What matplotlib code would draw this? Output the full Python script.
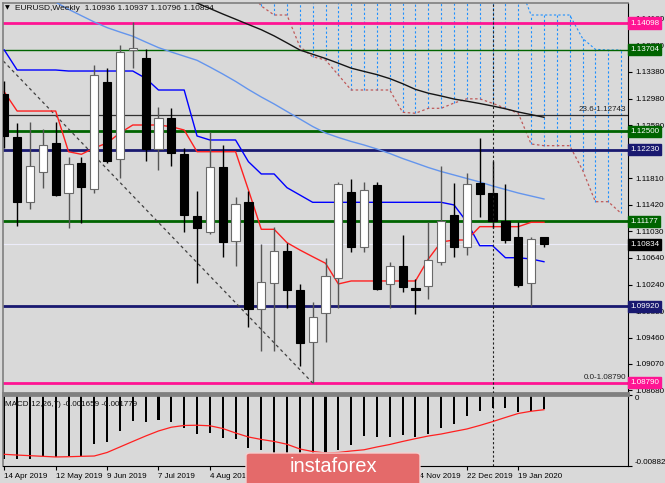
import matplotlib.pyplot as plt
import matplotlib.patches as patches
import numpy as np

plt.rcParams['font.family'] = ['Liberation Sans', 'DejaVu Sans']

# EURUSD weekly candles, week of 14 Apr 2019 .. week of 2 Feb 2020
opens = [1.13047, 1.12422, 1.11463, 1.11906, 1.12333, 1.11587, 1.12038, 1.11646, 1.13224, 1.12093,
         1.13696, 1.13578, 1.12236, 1.12702, 1.12171, 1.11257, 1.11021, 1.11979, 1.10888, 1.11454,
         1.09877, 1.10269, 1.10736, 1.10161, 1.09399, 1.09818, 1.10343, 1.11602, 1.10800, 1.11705,
         1.10245, 1.10520, 1.10186, 1.10220, 1.10570, 1.11267, 1.10800, 1.11743, 1.11596, 1.11179,
         1.10938, 1.10269, 1.10936]
highs = [1.13243, 1.12619, 1.12643, 1.12535, 1.12634, 1.12127, 1.12127, 1.13479, 1.13430, 1.13774,
         1.14117, 1.13710, 1.12864, 1.12840, 1.12251, 1.11621, 1.12495, 1.12299, 1.11528, 1.11625,
         1.10839, 1.11095, 1.10859, 1.10245, 1.09984, 1.10629, 1.11750, 1.11793, 1.11758, 1.11754,
         1.10569, 1.10972, 1.10319, 1.11168, 1.11990, 1.11743, 1.11882, 1.12398, 1.12062, 1.11720,
         1.11168, 1.10947, 1.10937]
lows = [1.12251, 1.11109, 1.11351, 1.11661, 1.11547, 1.11071, 1.11154, 1.11596, 1.12029, 1.11808,
        1.13430, 1.12068, 1.11931, 1.11990, 1.11012, 1.10269, 1.10990, 1.10652, 1.10515, 1.09620,
        1.09262, 1.09266, 1.09891, 1.09041, 1.08785, 1.09399, 1.09900, 1.10726, 1.10726, 1.10161,
        1.09891, 1.10127, 1.09803, 1.10024, 1.10530, 1.10652, 1.10677, 1.11233, 1.11072, 1.10859,
        1.10201, 1.09930, 1.10796]
closes = [1.12436, 1.11463, 1.11990, 1.12295, 1.11562, 1.12015, 1.11675, 1.13327, 1.12068, 1.13675,
          1.13734, 1.12240, 1.12693, 1.12186, 1.11267, 1.11071, 1.11979, 1.10873, 1.11425, 1.09877,
          1.10284, 1.10736, 1.10161, 1.09384, 1.09767, 1.10368, 1.11720, 1.10800, 1.11636, 1.10180,
          1.10520, 1.10210, 1.10161, 1.10599, 1.11183, 1.10791, 1.11724, 1.11581, 1.11183, 1.10898,
          1.10235, 1.10909, 1.10834]

# date ticks (labels under the watermark are not visible in the source)
date_pos = [0, 4, 8, 12, 16, 20, 24, 28, 32, 36, 40]
date_labels = ['14 Apr 2019', '12 May 2019', '9 Jun 2019', '7 Jul 2019', '4 Aug 2019', '',
               '', '', '24 Nov 2019', '22 Dec 2019', '19 Jan 2020']

# ichimoku tenkan / kijun
tenkan = [1.13081, 1.12800, 1.12800, 1.12800, 1.12800, 1.12200, 1.12162, 1.12255, 1.12329, 1.12476,
          1.12594, 1.12594, 1.12594, 1.12569, 1.12520, 1.12200, 1.12200, 1.12200, 1.12200, 1.11636,
          1.11056, 1.11056, 1.10859, 1.10751, 1.10652, 1.10555, 1.10250, 1.10294, 1.10294, 1.10294,
          1.10294, 1.10294, 1.10294, 1.10618, 1.10869, 1.10898, 1.10898, 1.11095, 1.11095, 1.11095,
          1.11095, 1.11159, 1.11159]
kijun = [1.13700, 1.13405, 1.13405, 1.13405, 1.13405, 1.13390, 1.13390, 1.13390, 1.13390, 1.13390,
         1.13390, 1.13283, 1.13110, 1.13110, 1.13110, 1.12432, 1.12373, 1.12373, 1.12373, 1.12053,
         1.11872, 1.11872, 1.11670, 1.11562, 1.11454, 1.11454, 1.11454, 1.11454, 1.11454, 1.11454,
         1.11454, 1.11454, 1.11454, 1.11454, 1.11454, 1.11415, 1.11164, 1.10814, 1.10814, 1.10637,
         1.10637, 1.10618, 1.10578]

# moving averages (start week given)
ma_fast_start = 3
ma_fast = [1.14489, 1.14405, 1.14300, 1.14206, 1.14113, 1.14030, 1.13965, 1.13903, 1.13818, 1.13735,
           1.13670, 1.13609, 1.13548, 1.13449, 1.13346, 1.13237, 1.13118, 1.13007, 1.12904, 1.12793,
           1.12683, 1.12572, 1.12476, 1.12410, 1.12351, 1.12299, 1.12240, 1.12174, 1.12100, 1.12034,
           1.11967, 1.11908, 1.11857, 1.11805, 1.11754, 1.11695, 1.11643, 1.11591, 1.11547, 1.11503]
ma_slow_start = 13
ma_slow = [1.14555, 1.14481, 1.14393, 1.14312, 1.14231, 1.14154, 1.14076, 1.13999, 1.13908, 1.13805,
           1.13700, 1.13637, 1.13575, 1.13505, 1.13432, 1.13384, 1.13337, 1.13278, 1.13203, 1.13119,
           1.13063, 1.13022, 1.12977, 1.12945, 1.12911, 1.12874, 1.12833, 1.12786, 1.12747, 1.12708]

# cloud (shifted forward)
cloud_start = 19
span_a = [1.14600, 1.14349, 1.14216, 1.14216, 1.13749, 1.13601, 1.13553, 1.13331, 1.13110, 1.13110,
          1.13110, 1.13110, 1.12781, 1.12767, 1.12840, 1.12840, 1.12918, 1.12980, 1.12980, 1.12914,
          1.12840, 1.12767, 1.12314, 1.12289, 1.12289, 1.12289, 1.11931, 1.11463, 1.11463, 1.11292]
span_b = [1.14700, 1.14700, 1.14700, 1.14700, 1.14700, 1.14700, 1.14700, 1.14700, 1.14700, 1.14700,
          1.14700, 1.14700, 1.14700, 1.14700, 1.14700, 1.14700, 1.14700, 1.14700, 1.14700, 1.14700,
          1.14700, 1.14700, 1.14216, 1.14216, 1.14216, 1.14216, 1.13872, 1.13710, 1.13700, 1.13700]

macd_main = [-0.00791, -0.00791, -0.00791, -0.00753, -0.00766, -0.00753, -0.00753, -0.00607, -0.00585, -0.00448,
             -0.00319, -0.00335, -0.00306, -0.00328, -0.00403, -0.00485, -0.00465, -0.00528, -0.00544, -0.00653,
             -0.00682, -0.00732, -0.00769, -0.00782, -0.00769, -0.00732, -0.00688, -0.00619, -0.00507, -0.00523,
             -0.00515, -0.00490, -0.00515, -0.00482, -0.00410, -0.00360, -0.00256, -0.00190, -0.00160, -0.00153,
             -0.00203, -0.00190, -0.001659]
macd_signal = [-0.00736, -0.00745, -0.00753, -0.00761, -0.00769, -0.00766, -0.00761, -0.00757, -0.00713, -0.00644,
               -0.00575, -0.00507, -0.00444, -0.00397, -0.00375, -0.00372, -0.00379, -0.00413, -0.00469, -0.00519,
               -0.00550, -0.00575, -0.00610, -0.00669, -0.00701, -0.00719, -0.00713, -0.00694, -0.00679, -0.00644,
               -0.00613, -0.00575, -0.00540, -0.00507, -0.00482, -0.00450, -0.00419, -0.00375, -0.00327, -0.00275,
               -0.00225, -0.00197, -0.001779]

levels = [1.14098, 1.13704, 1.12500, 1.12230, 1.11177, 1.09920, 1.08790]
level_colors = ['#ff1493', '#006400', '#006400', '#191970', '#006400', '#191970', '#ff1493']
level_widths = [2, 1, 2, 2, 2, 2, 2]
last_price = 1.10834

fib_levels = [1.12743, 1.08790]
fib_labels = ['23.6-1.12743', '0.0-1.08790']
trend_x = [-61, 24]
trend_y = [1.2555, 1.0879]
marker_week = 38

price_ticks = [1.14160, 1.13770, 1.13380, 1.12980, 1.12590, 1.12200, 1.11810, 1.11420, 1.11030,
               1.10640, 1.10240, 1.09850, 1.09460, 1.09070, 1.08680]
# 1.12200 sits fully behind the 1.12230 box in the source
price_tick_labels = ['1.14160', '1.13770', '1.13380', '1.12980', '1.12590', '', '1.11810', '1.11420',
                     '1.11030', '1.10640', '1.10240', '1.09850', '1.09460', '1.09070', '1.08680']

BG = '#d9d9d9'
W, H = 665, 483
FS = 5.8

fig = plt.figure(figsize=(W / 100, H / 100), dpi=100, facecolor=BG)


def px_axes(l, t, r, b):
    return fig.add_axes([l / W, 1 - b / H, (r - l) / W, (b - t) / H])


ax = px_axes(3, 3, 628, 393)
ax2 = px_axes(3, 395, 628, 466)
for a in (ax, ax2):
    a.set_facecolor(BG)
    a.set_xlim(-0.1, 48.54)
    for s in a.spines.values():
        s.set_color('#808080')
        s.set_linewidth(1.2)
    a.spines['right'].set_color('black')
    a.spines['right'].set_linewidth(0.8)
ax.spines['bottom'].set_linewidth(2)
ax2.spines['top'].set_linewidth(2)
ax2.spines['bottom'].set_color('black')
ax2.spines['bottom'].set_linewidth(0.8)

ax.set_ylim(1.08642, 1.14393)
week = np.arange(len(opens))

# cloud
cw = np.arange(cloud_start, cloud_start + len(span_a))
ax.vlines(cw, span_a, span_b, colors='#1e90ff', linestyles=(0, (2, 2)), lw=0.8, zorder=1)
ax.plot(cw, span_b, color='#1e90ff', ls=(0, (2, 2)), lw=0.8, zorder=1)
ax.plot(cw, span_a, color='#bf5a5a', ls=(0, (2, 2)), lw=0.9, zorder=1)

# levels
for lv, c, lw in zip(levels, level_colors, level_widths):
    ax.axhline(lv, color=c, lw=lw, zorder=2)
for lv in fib_levels[:1]:
    ax.axhline(lv, color='#303030', lw=0.9, zorder=2)
ax.axhline(last_price, color='#ececfa', lw=0.8, zorder=2)
ax.plot(trend_x, trend_y, color='#404040', ls=(0, (2.5, 2.5)), lw=0.9, zorder=2)

# indicator lines
ax.plot(np.arange(ma_fast_start, ma_fast_start + len(ma_fast)), ma_fast, color='#6495ed', lw=1, zorder=3)
ax.plot(np.arange(ma_slow_start, ma_slow_start + len(ma_slow)), ma_slow, color='#151515', lw=1, zorder=3)
ax.plot(week, kijun, color='#0000ff', lw=1, zorder=3)
ax.plot(week, tenkan, color='#ff2020', lw=1, zorder=3)

# candles
o = np.array(opens)
c = np.array(closes)
bull = c >= o
body_lo = np.minimum(o, c)
body_h = np.maximum(np.abs(c - o), 0.00012)
wick_col = np.where(bull, '#555555', 'black')
ax.vlines(week, lows, highs, colors=wick_col, lw=1, zorder=4)
ax.bar(week, body_h, bottom=body_lo, width=0.64,
       color=np.where(bull, 'white', 'black'), edgecolor=np.where(bull, '#6a6a6a', 'black'),
       lw=0.8, zorder=5)

ax.axvline(marker_week, color='#202020', ls=(0, (2, 2)), lw=0.8, zorder=6)
ax2.axvline(marker_week, color='#202020', ls=(0, (2, 2)), lw=0.8, zorder=1)

# fib texts
for lv, lab in zip(fib_levels, fib_labels):
    ax.annotate(lab, (0.997, lv), xycoords=ax.get_yaxis_transform(), xytext=(0, 1.5),
                textcoords='offset points', ha='right', va='bottom', fontsize=FS, color='#202020', zorder=7)

# right price axis
ax.yaxis.tick_right()
ax.set_yticks(price_ticks)
ax.set_yticklabels(price_tick_labels)
ax.tick_params(axis='y', length=3, width=0.8, pad=2, labelsize=FS, colors='black')
ax.set_xticks([])

for lv, col in zip(levels, level_colors):
    ax.text(1.0035, lv, '%.5f' % lv, transform=ax.get_yaxis_transform(), fontsize=FS, color='white',
            ha='left', va='center', clip_on=False, zorder=8,
            bbox=dict(boxstyle='square,pad=0.25', fc=col, ec=col))
ax.text(1.0035, last_price, '%.5f' % last_price, transform=ax.get_yaxis_transform(), fontsize=FS,
        color='white', ha='left', va='center', clip_on=False, zorder=8,
        bbox=dict(boxstyle='square,pad=0.25', fc='black', ec='black'))

# MACD
ax2.set_ylim(-0.00882, 0.00006)
ax2.bar(week, macd_main, width=0.16, color='black', zorder=2)
ax2.plot(week, macd_signal, color='#ff2020', lw=0.9, zorder=3)
ax2.yaxis.tick_right()
ax2.set_yticks([0, -0.00882])
ax2.set_yticklabels(['0', '-0.00882'])
ax2.tick_params(axis='y', length=3, width=0.8, pad=2, labelsize=FS)
yl = ax2.get_yticklabels()
yl[0].set_va('top')
yl[1].set_va('bottom')

ax2.set_xticks(date_pos)
ax2.set_xticklabels(date_labels)
ax2.tick_params(axis='x', length=3, width=0.8, pad=2, labelsize=FS)
for t in ax2.get_xticklabels():
    t.set_ha('left')

# header texts
fig.text(5 / W, 1 - 8 / H, '\u25bc', fontsize=4.5, va='center', ha='left', family=['DejaVu Sans'])
fig.text(15 / W, 1 - 8 / H, 'EURUSD,Weekly  1.10936 1.10937 1.10796 1.10834', fontsize=FS + 0.2,
         va='center', ha='left', color='#101010')
fig.text(5 / W, 1 - 405 / H, 'MACD(12,26,7) -0.001659 -0.001779', fontsize=FS,
         va='center', ha='left', color='#101010')

# watermark
wm = patches.FancyBboxPatch((246 / W, -0.05), 174 / W, 0.05 + (483 - 453) / H,
                            boxstyle='round,pad=0,rounding_size=0.006', transform=fig.transFigure,
                            fc='#e46a6a', ec='#f4d0d0', lw=1, zorder=10)
fig.patches.append(wm)
fig.text(333 / W, 1 - 467 / H, 'instaforex', fontsize=14.5, color='white', ha='center', va='center',
         zorder=11)

fig.savefig('out.png', dpi=100, facecolor=BG)
